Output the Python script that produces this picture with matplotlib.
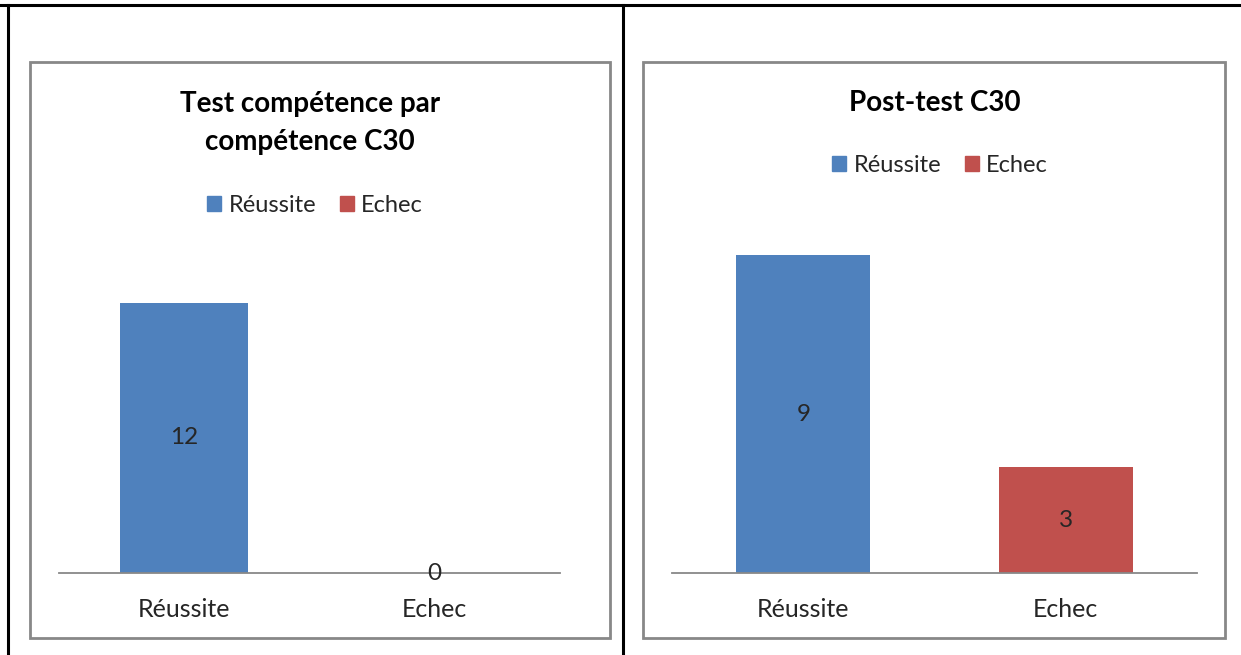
import matplotlib.pyplot as plt
from matplotlib.lines import Line2D
from matplotlib.patches import Rectangle, Patch

plt.rcParams["font.family"] = ["Lato", "DejaVu Sans"]

# ── Data ──────────────────────────────────────────────────────────────────
categories = ["Réussite", "Echec"]
pre_values = [12, 0]
post_values = [9, 3]
pre_title = "Test compétence par\ncompétence C30"
post_title = "Post-test C30"

BLUE = "#4F81BD"
RED = "#C0504D"
GRAY = "#888888"
TEXT = "#262626"

W, H = 1241, 655
fig = plt.figure(figsize=(W / 100, H / 100), dpi=100)


def fx(px):
    return px / W


def fy(py):
    return 1 - py / H


# ── Table lines ──────────────────────────────────────────────────────────
for xs, ys in [((0, W), (5, 5)), ((8, 8), (5, H)), ((623, 623), (5, H))]:
    fig.add_artist(Line2D([fx(x) for x in xs], [fy(y) for y in ys],
                          color="black", lw=2.2))


def chart(box, plot_x, ymax, values, title, title_xy, legend_xy):
    x0, y0, x1, y1 = box
    fig.add_artist(Rectangle((fx(x0), fy(y1)), fx(x1 - x0), (y1 - y0) / H,
                             fill=False, ec=GRAY, lw=2))
    fig.text(fx(title_xy[0]), fy(title_xy[1]), title, ha="center", va="center",
             fontsize=20, fontweight="bold", color="black", linespacing=1.6)

    px0, px1, unit = plot_x
    base = 573
    top = base - ymax * unit
    ax = fig.add_axes([fx(px0), fy(base), fx(px1 - px0), (base - top) / H])
    colors = [BLUE, RED]
    ax.bar(range(len(categories)), values, width=0.51, color=colors, zorder=1)
    for i, v in enumerate(values):
        ax.text(i, v / 2, str(v), ha="center", va="center",
                fontsize=17.5, color=TEXT, zorder=3)
    ax.set_xlim(-0.5, len(categories) - 0.5)
    ax.set_ylim(0, ymax)
    for s in ["left", "right", "top"]:
        ax.spines[s].set_visible(False)
    ax.spines["bottom"].set_color(GRAY)
    ax.spines["bottom"].set_linewidth(1.3)
    ax.spines["bottom"].set_zorder(2)
    ax.set_yticks([])
    ax.set_xticks(range(len(categories)))
    ax.set_xticklabels(categories, fontsize=18, color=TEXT)
    ax.tick_params(axis="x", length=0, pad=18)

    handles = [Patch(color=c, label=l) for c, l in zip(colors, categories)]
    fig.legend(handles=handles, loc="center", ncol=2, frameon=False,
               bbox_to_anchor=(fx(legend_xy[0]), fy(legend_xy[1])), fontsize=17,
               handlelength=0.6, handleheight=0.6, handletextpad=0.3,
               columnspacing=1.0, labelcolor=TEXT)


chart((30, 62, 610, 638), (59, 560, 22.5), 14, pre_values, pre_title,
      (310, 123), (315, 205))
chart((643, 62, 1225, 638), (672, 1197, 35.3), 10, post_values, post_title,
      (935, 103), (940, 165))

fig.savefig("out.png", dpi=100)
